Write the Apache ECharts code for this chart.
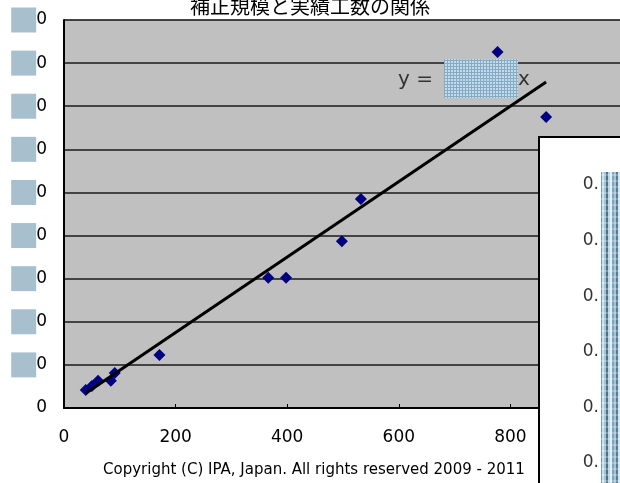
<!DOCTYPE html>
<html>
<head>
<meta charset="utf-8">
<script src="https://cdn.jsdelivr.net/npm/echarts@6/dist/echarts.min.js"></script>
<style>
  html, body { margin: 0; padding: 0; background: #fff; }
  #chart { width: 620px; height: 483px; }
</style>
</head>
<body>
<div id="chart"></div>
<script>
// 補正規模 (x) と実績工数 (y) の各プロジェクト
const sizeX   = [39, 50, 61, 84, 91, 171, 366, 398, 498, 532, 777, 864];
const effortY = [42, 51, 63, 63, 81, 123, 302, 302, 387, 485, 826, 675];

const titleText = '補正規模と実績工数の関係';
const copyrightText = 'Copyright (C) IPA, Japan. All rights reserved 2009 - 2011';
// Secondary panel axis labels (leading part only is printed)
const subTickLabel = '0.';

// Linear trend through the origin: y = k x (least squares)
let sxy = 0, sxx = 0;
for (let i = 0; i < sizeX.length; i++) { sxy += sizeX[i] * effortY[i]; sxx += sizeX[i] * sizeX[i]; }
const k = sxy / sxx;
const xMin = Math.min(...sizeX), xMax = Math.max(...sizeX);
const trend = [[xMin, k * xMin], [xMax, k * xMax]];

// Texture fills for the masked areas
function makePattern(w, h, painter) {
  const c = document.createElement('canvas');
  c.width = w; c.height = h;
  painter(c.getContext('2d'));
  return { image: c, repeat: 'repeat' };
}
const gridTexture = makePattern(3, 3, g => {
  g.fillStyle = '#c3dcec'; g.fillRect(0, 0, 3, 3);
  g.fillStyle = '#86aac4'; g.fillRect(0, 0, 3, 1); g.fillRect(0, 0, 1, 3);
});
const stripeColors = ['#6f95b0', '#c9e0ec', '#9fc2d6', '#4f7089', '#b6d4e4', '#e2eef5', '#7fa5bd', '#a3c4d7', '#587a93', '#cfe3ee'];
const stripeTexture = makePattern(stripeColors.length * 2, 6, g => {
  stripeColors.forEach((col, i) => { g.fillStyle = col; g.fillRect(i * 2, 0, 2, 6); });
  g.fillStyle = 'rgba(255,255,255,0.25)'; g.fillRect(0, 0, stripeColors.length * 2, 2);
});

const digitFont = 'DejaVu Sans';

const chart = echarts.init(document.getElementById('chart'));
chart.setOption({
  animation: false,
  backgroundColor: '#fff',
  title: {
    text: titleText,
    left: 190, top: -4, padding: 0,
    textStyle: { fontFamily: 'Noto Sans CJK JP', fontSize: 20, fontWeight: 'normal', color: '#000' }
  },
  grid: [
    { left: 64, top: 20, width: 558, height: 388, show: true, outerBoundsMode: 'none', containLabel: false,
      backgroundColor: '#c0c0c0', borderColor: '#8c8c8c', borderWidth: 1 },
    { left: 601, top: 185, width: 19, height: 278, outerBoundsMode: 'none', containLabel: false }
  ],
  xAxis: [
    { type: 'value', gridIndex: 0, min: 0, max: 1000, interval: 200,
      axisLine: { show: true, lineStyle: { color: '#000', width: 2 } },
      axisTick: { show: true, inside: true, length: 4, lineStyle: { color: '#000' } },
      axisLabel: { margin: 21, fontSize: 17, color: '#000', fontFamily: digitFont },
      splitLine: { show: false } },
    { type: 'value', gridIndex: 1, show: false, min: 0, max: 1 }
  ],
  yAxis: [
    { type: 'value', gridIndex: 0, min: 0, max: 900, interval: 100,
      axisLine: { show: true, lineStyle: { color: '#000', width: 2 } },
      axisTick: { show: false },
      axisLabel: {
        margin: 17, color: '#000',
        formatter: v => v === 0 ? '{d|0}' : '{m|}{d|0}',
        rich: {
          m: { width: 25, height: 25, backgroundColor: '#a8c0ce' },
          d: { fontSize: 17, fontFamily: digitFont, color: '#000' }
        }
      },
      splitLine: { show: true, lineStyle: { color: '#1a1a1a', width: 1.6 } } },
    { type: 'value', gridIndex: 1, min: 0, max: 5, interval: 1, z: 30,
      axisLine: { show: false }, axisTick: { show: false }, splitLine: { show: false },
      axisLabel: { margin: 2, fontSize: 17, color: '#333', fontFamily: digitFont,
                   formatter: () => subTickLabel } }
  ],
  series: [
    { type: 'scatter', xAxisIndex: 0, yAxisIndex: 0, z: 2,
      symbol: 'diamond', symbolSize: 12,
      itemStyle: { color: '#000080', opacity: 1 },
      data: sizeX.map((x, i) => [x, effortY[i]]) },
    { type: 'line', xAxisIndex: 0, yAxisIndex: 0, z: 3,
      symbol: 'none', silent: true,
      lineStyle: { color: '#000', width: 3 },
      data: trend }
  ],
  graphic: [
    // equation of the trend line
    { type: 'text', z: 12, style: { text: 'y =', x: 398, y: 80, verticalAlign: 'middle',
        font: '20px DejaVu Sans', fill: '#333' } },
    { type: 'rect', z: 12, shape: { x: 444, y: 59, width: 74, height: 39 },
      style: { fill: gridTexture } },
    { type: 'text', z: 12, style: { text: 'x', x: 518, y: 80, verticalAlign: 'middle',
        font: '20px DejaVu Sans', fill: '#333' } },
    // secondary panel
    { type: 'rect', z: 20, shape: { x: 539, y: 137, width: 100, height: 400 },
      style: { fill: '#fff', stroke: '#000', lineWidth: 2 } },
    { type: 'rect', z: 21, shape: { x: 601, y: 172, width: 19, height: 311 },
      style: { fill: stripeTexture } },
    // footer
    { type: 'text', z: 12, style: { text: copyrightText, x: 103, y: 470, verticalAlign: 'middle',
        font: '15px DejaVu Sans', fill: '#000' } }
  ]
});
</script>
</body>
</html>
